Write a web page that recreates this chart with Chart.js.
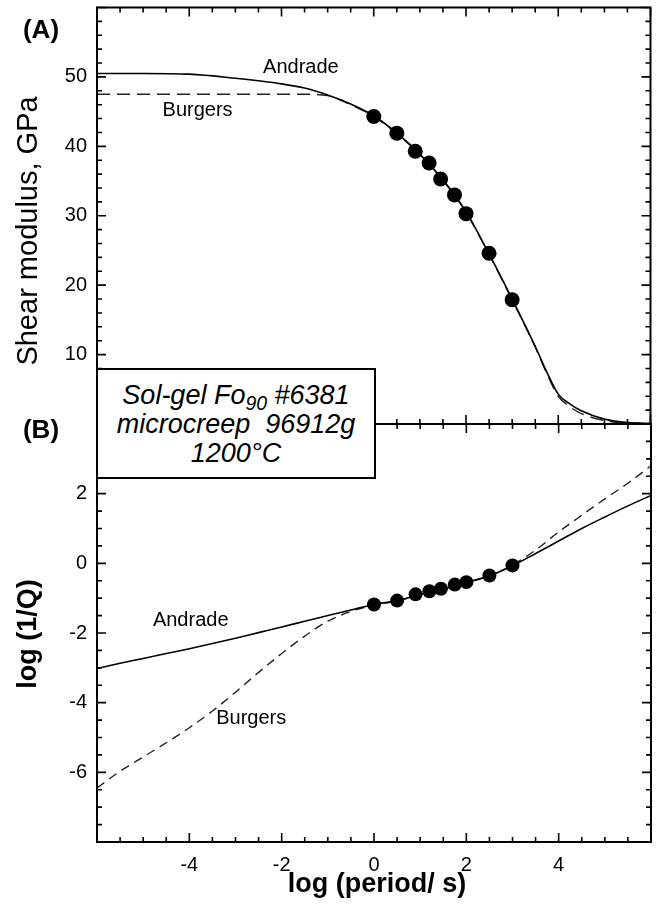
<!DOCTYPE html>
<html lang="en">
<head>
<meta charset="UTF-8">
<title>Sol-gel Fo90 shear modulus and dissipation</title>
<script src="https://cdn.jsdelivr.net/npm/chart.js"></script>
<style>
  body { margin: 0; background: #fff; }
  #wrap { position: relative; width: 658px; height: 917px; font-family: "Liberation Sans", Arial, sans-serif; }
  #wrap canvas { position: absolute; left: 0; top: 0; }
  #sample {
    position: absolute; left: 96px; top: 368px; width: 280px; height: 111px;
    box-sizing: border-box; border: 2px solid #000; background: #fff; color: #000;
    text-align: center; font-style: italic; font-size: 27px; line-height: 29px;
    padding-top: 11px; white-space: pre;
  }
  #sample sub { font-size: 0.72em; line-height: 0; vertical-align: -0.3em; }
</style>
</head>
<body>
<div id="wrap">
  <canvas id="modulusChart" width="658" height="917"></canvas>
  <canvas id="qChart" width="658" height="917"></canvas>
  <div id="sample"><div>Sol-gel Fo<sub>90</sub> #6381</div><div>microcreep  96912g</div><div>1200°C</div></div>
</div>

<script>
// measured points, x = log10(period / s)
const logPeriod = [0, 0.5, 0.9, 1.2, 1.45, 1.75, 2.0, 2.5, 3.0];
const shearModulus = [44.3, 41.9, 39.3, 37.6, 35.3, 33.0, 30.3, 24.6, 17.9];
const logInvQ = [-1.18, -1.07, -0.89, -0.80, -0.73, -0.61, -0.54, -0.35, -0.06];

// fitted model curves, panel A
const modelPeriodA = [-6, -5, -4, -3, -2, -1.5, -1, -0.5, 0, 0.5, 1, 1.5, 2, 2.5, 3, 3.5, 3.75, 4, 4.25, 4.5, 5, 5.5, 6];
const andradeModulus = [50.5, 50.5, 50.4, 49.8, 49.0, 48.4, 47.4, 46.1, 44.4, 41.9, 38.9, 35.2, 30.6, 24.5, 18.0, 11.2, 7.5, 4.3, 2.9, 1.9, 0.7, 0.2, 0.1];
const burgersModulus = [47.5, 47.5, 47.5, 47.5, 47.5, 47.5, 47.3, 46.0, 44.3, 41.8, 38.8, 35.1, 30.5, 24.4, 17.9, 11.1, 7.3, 4.0, 2.5, 1.5, 0.5, 0.15, 0.05];

// fitted model curves, panel B
const modelPeriodB = [-6, -5.5, -5, -4.5, -4, -3.5, -3, -2.5, -2, -1.5, -1, -0.5, 0, 0.5, 1, 1.5, 2, 2.5, 3, 3.5, 4, 4.5, 5, 5.5, 6];
const andradeQ = [-3.02, -2.87, -2.73, -2.59, -2.45, -2.30, -2.15, -1.99, -1.83, -1.66, -1.50, -1.34, -1.18, -1.07, -0.90, -0.74, -0.55, -0.36, -0.07, 0.28, 0.64, 1.00, 1.33, 1.65, 1.95];
const burgersQ = [-6.45, -5.97, -5.56, -5.15, -4.72, -4.24, -3.70, -3.13, -2.59, -2.09, -1.66, -1.38, -1.20, -1.08, -0.90, -0.74, -0.55, -0.36, -0.05, 0.38, 0.90, 1.38, 1.85, 2.30, 2.80];

// curve labels, in data units
const notesA = [{ text: 'Andrade', x: -1.58, y: 51.4 }, { text: 'Burgers', x: -3.82, y: 45.1 }];
const notesB = [{ text: 'Andrade', x: -3.97, y: -1.64 }, { text: 'Burgers', x: -2.66, y: -4.44 }];

const FONT = "'Liberation Sans', Arial, sans-serif";
const pts = (xs, ys) => xs.map((x, i) => ({ x: x, y: ys[i] }));

// box around the plot with inward minor/major ticks, plus free text
function framePlugin(yStep, yMajor, notes, drawText) {
    return {
        id: 'frame',
        afterDatasetsDraw(chart) {
            const ctx = chart.ctx;
            const a = chart.chartArea;
            const xs = chart.scales.x, ys = chart.scales.y;
            ctx.save();
            ctx.strokeStyle = '#000';
            ctx.lineWidth = 2;
            ctx.strokeRect(a.left, a.top, a.right - a.left, a.bottom - a.top);
            ctx.lineWidth = 1.6;
            ctx.beginPath();
            for (let k = 0; k <= 24; k++) {
                const v = xs.min + k * 0.5;
                const len = Math.abs(v / 2 - Math.round(v / 2)) < 1e-6 ? 9 : 5;
                const px = xs.getPixelForValue(v);
                ctx.moveTo(px, a.bottom); ctx.lineTo(px, a.bottom - len);
                ctx.moveTo(px, a.top); ctx.lineTo(px, a.top + len);
            }
            const n = Math.round((ys.max - ys.min) / yStep);
            for (let k = 0; k <= n; k++) {
                const v = ys.min + k * yStep;
                const len = Math.abs(v / yMajor - Math.round(v / yMajor)) < 1e-6 ? 9 : 5;
                const py = ys.getPixelForValue(v);
                ctx.moveTo(a.left, py); ctx.lineTo(a.left + len, py);
                ctx.moveTo(a.right, py); ctx.lineTo(a.right - len, py);
            }
            ctx.stroke();

            ctx.fillStyle = '#000';
            ctx.font = '20px ' + FONT;
            ctx.textAlign = 'center';
            ctx.textBaseline = 'middle';
            notes.forEach(nt => {
                ctx.fillText(nt.text, xs.getPixelForValue(nt.x), ys.getPixelForValue(nt.y));
            });
            drawText(ctx);
            ctx.restore();
        }
    };
}

function vertTitle(ctx, text, x, y, font) {
    ctx.save();
    ctx.translate(x, y);
    ctx.rotate(-Math.PI / 2);
    ctx.font = font;
    ctx.textAlign = 'center';
    ctx.textBaseline = 'alphabetic';
    ctx.fillText(text, 0, 0);
    ctx.restore();
}

function scatterSet(data, r) {
    return { data: data, showLine: false, pointRadius: r, pointBackgroundColor: '#000', pointBorderWidth: 0 };
}
function curveSet(data, dash, width, color) {
    return { data: data, borderColor: color, borderWidth: width, borderDash: dash, pointRadius: 0, cubicInterpolationMode: 'monotone', fill: false };
}

function yAxis(min, max, step) {
    return {
        type: 'linear', min: min, max: max,
        grid: { display: false, drawTicks: false },
        border: { display: false },
        ticks: {
            stepSize: step, padding: 10, color: '#000', font: { family: FONT, size: 20 },
            callback: v => (v > min && v < max ? String(v) : null)
        },
        afterFit: s => { s.width = 97; s.paddingTop = 0; s.paddingBottom = 0; }
    };
}

new Chart(document.getElementById('modulusChart'), {
    type: 'line',
    data: {
        datasets: [
            scatterSet(pts(logPeriod, shearModulus), 7.5),
            curveSet(pts(modelPeriodA, andradeModulus), [], 1.6, '#000'),
            curveSet(pts(modelPeriodA, burgersModulus), [13, 7], 1.4, '#222')
        ]
    },
    options: {
        responsive: false,
        animation: false,
        events: [],
        layout: { padding: { top: 7, right: 6, bottom: 493, left: 0 } },
        plugins: { legend: { display: false }, tooltip: { enabled: false } },
        scales: {
            x: {
                type: 'linear', min: -6, max: 6,
                ticks: { display: false },
                grid: { display: false, drawTicks: false },
                border: { display: false },
                afterFit: s => { s.height = 0; s.paddingLeft = 0; s.paddingRight = 0; }
            },
            y: yAxis(0, 60, 10)
        }
    },
    plugins: [framePlugin(2, 10, notesA, ctx => {
        ctx.font = 'bold 26px ' + FONT;
        ctx.textAlign = 'center';
        ctx.textBaseline = 'middle';
        ctx.fillText('(A)', 41, 31);
        vertTitle(ctx, 'Shear modulus, GPa', 37, 231, '29px ' + FONT);
    })]
});

new Chart(document.getElementById('qChart'), {
    type: 'line',
    data: {
        datasets: [
            scatterSet(pts(logPeriod, logInvQ), 7),
            curveSet(pts(modelPeriodB, andradeQ), [], 1.6, '#000'),
            curveSet(pts(modelPeriodB, burgersQ), [9, 6], 1.4, '#222')
        ]
    },
    options: {
        responsive: false,
        animation: false,
        events: [],
        layout: { padding: { top: 424, right: 6, bottom: 0, left: 0 } },
        plugins: { legend: { display: false }, tooltip: { enabled: false } },
        scales: {
            x: {
                type: 'linear', min: -6, max: 6,
                grid: { display: false, drawTicks: false },
                border: { display: false },
                ticks: {
                    stepSize: 2, padding: 11, color: '#000', font: { family: FONT, size: 20 },
                    maxRotation: 0,
                    callback: v => (v > -6 && v < 6 ? String(v) : null)
                },
                afterFit: s => { s.height = 75; s.paddingLeft = 0; s.paddingRight = 0; }
            },
            y: yAxis(-8, 4, 2)
        }
    },
    plugins: [framePlugin(0.5, 2, notesB, ctx => {
        ctx.font = 'bold 26px ' + FONT;
        ctx.textAlign = 'center';
        ctx.textBaseline = 'middle';
        ctx.fillText('(B)', 41, 431);
        vertTitle(ctx, 'log (1/Q)', 36, 634, 'bold 27px ' + FONT);
        ctx.font = 'bold 27px ' + FONT;
        ctx.textAlign = 'center';
        ctx.textBaseline = 'alphabetic';
        ctx.fillText('log (period/ s)', 377, 892);
    })]
});
</script>
</body>
</html>
